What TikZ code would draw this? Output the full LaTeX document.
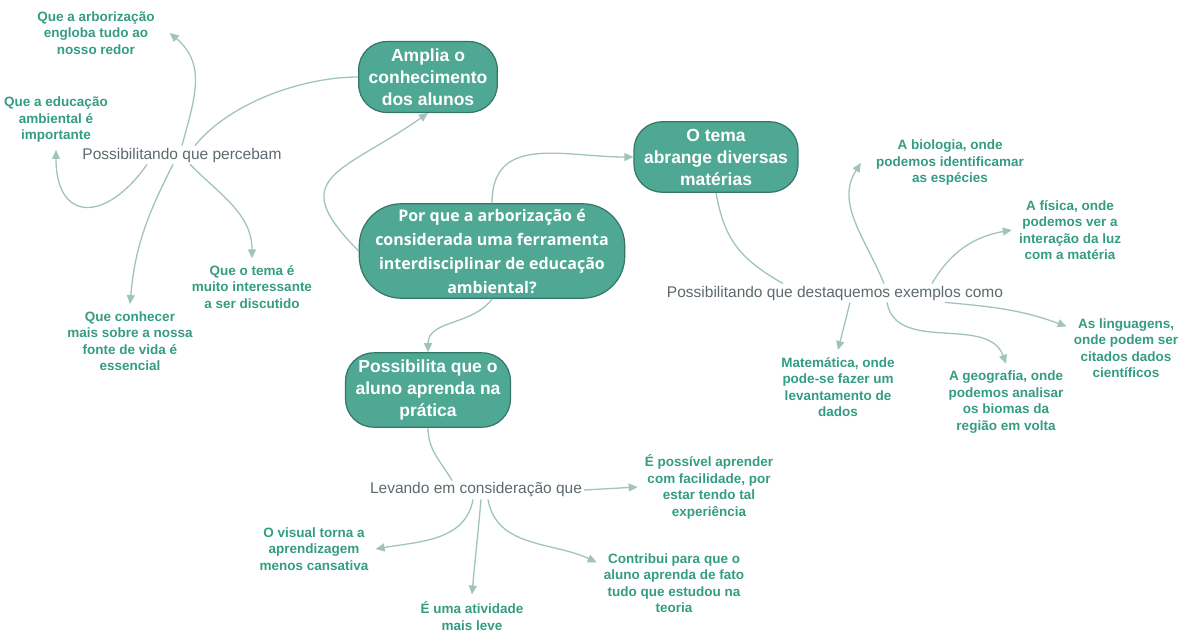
\documentclass[tikz,border=0pt]{standalone}
\usepackage{fontspec}
\setmainfont{Liberation Sans}
\newfontfamily\opensans{Open Sans}
\usetikzlibrary{arrows.meta}

\definecolor{nodeteal}{RGB}{78,168,148}
\definecolor{nodeborder}{RGB}{52,118,103}
\definecolor{leafgreen}{RGB}{52,156,130}
\definecolor{labelgray}{RGB}{92,106,110}
\definecolor{linkc}{RGB}{160,195,188}

\begin{document}
\begin{tikzpicture}[
    x=1pt, y=1pt,
    >={Triangle[length=9pt, width=8pt]},
    topic/.style={draw=nodeborder, fill=nodeteal, line width=1.2pt, rounded corners=28pt, text=white, align=center, inner xsep=10pt, inner ysep=7pt, font=\bfseries\fontsize{17.5}{22}\selectfont},
    question/.style={topic, rounded corners=42pt, inner xsep=16pt, inner ysep=5pt, font=\opensans\bfseries\fontsize{16}{24}\selectfont},
    leaf/.style={text=leafgreen, align=center, inner sep=7pt, font=\bfseries\fontsize{13.5}{16.5}\selectfont},
    linker/.style={text=labelgray, inner sep=2pt, font=\fontsize{15.5}{18}\selectfont},
    arrow/.style={->, line width=1.3pt, linkc},
    link/.style={line width=1.3pt, linkc}
]
\useasboundingbox (0,0) rectangle (1190,-634);

% TOPICS
\node[topic] (amplia) at (428,-77) {Amplia o\\conhecimento\\dos alunos};
\node[topic] (tema) at (716,-157) {O tema\\abrange diversas\\matérias};
\node[question] (pergunta) at (492,-251) {Por que a arborização é\\considerada uma ferramenta\\interdisciplinar de educação\\ambiental?};
\node[topic] (pratica) at (428,-390) {Possibilita que o\\aluno aprenda na\\prática};

% LINKING PHRASES
\node[linker] (percebam) at (182,-155) {Possibilitando que percebam};
\node[linker] (destaq) at (835,-293) {Possibilitando que destaquemos exemplos como};
\node[linker] (levando) at (476,-490) {Levando em consideração que};

% LEAVES
\node[leaf] (arborizacao) at (96,-33) {Que a arborização\\engloba tudo ao\\nosso redor};
\node[leaf] (educacao) at (56,-120) {Que a educação\\ambiental é\\importante};
\node[leaf] (interesse) at (252,-287) {Que o tema é\\muito interessante\\a ser discutido};
\node[leaf] (conhecer) at (130,-341) {Que conhecer\\mais sobre a nossa\\fonte de vida é\\essencial};
\node[leaf] (biologia) at (950,-163) {A biologia, onde\\podemos identificamar\\as espécies};
\node[leaf] (fisica) at (1070,-230) {A física, onde\\podemos ver a\\interação da luz\\com a matéria};
\node[leaf] (linguagens) at (1126,-348) {As linguagens,\\onde podem ser\\citados dados\\científicos};
\node[leaf] (matematica) at (838,-387) {Matemática, onde\\pode-se fazer um\\levantamento de\\dados};
\node[leaf] (geografia) at (1006,-402) {A geografia, onde\\podemos analisar\\os biomas da\\região em volta};
\node[leaf] (possivel) at (709,-487) {É possível aprender\\com facilidade, por\\estar tendo tal\\experiência};
\node[leaf] (visual) at (314,-549) {O visual torna a\\aprendizagem\\menos cansativa};
\node[leaf] (atividade) at (472,-616) {É uma atividade\\mais leve};
\node[leaf] (contribui) at (674,-583) {Contribui para que o\\aluno aprenda de fato\\tudo que estudou na\\teoria};

% QUESTION to TOPICS
\draw[arrow] (pergunta.west) to[out=135, in=215, looseness=1.75] (amplia.south);
\draw[arrow] (pergunta.north) to[out=90, in=180, looseness=1.2] (tema.west);
\draw[arrow] (pergunta.south) to[out=235, in=90] (pratica.north);

% TOPICS to LINKING PHRASES
\draw[link] (amplia.west) to[out=180, in=51, looseness=0.8] ([xshift=13pt]percebam.north);
\draw[link] (tema.south) to[out=-80, in=150, looseness=1.1] ([xshift=-52pt]destaq.north);
\draw[link] (pratica.south) to[out=-90, in=120] ([xshift=-24pt]levando.north);

% PERCEBAM
\draw[arrow] (percebam.north) to[out=75, in=-40, looseness=1.1] ([xshift=8pt]arborizacao.east);
\draw[arrow] ([xshift=-35pt]percebam.south) to[out=235, in=-90, looseness=2] (educacao.south);
\draw[arrow] ([xshift=-9pt]percebam.south) to[out=243, in=85] (conhecer.north);
\draw[arrow] ([xshift=8pt]percebam.south) to[out=-45, in=90] (interesse.north);

% DESTAQUEMOS
\draw[arrow] ([xshift=49pt]destaq.north) to[out=112, in=-123] ([xshift=-8pt]biologia.west);
\draw[arrow] ([xshift=97pt]destaq.north) to[out=60, in=190] (fisica.west);
\draw[arrow] ([xshift=110pt]destaq.south) to[out=-5, in=160] (linguagens.160);
\draw[arrow] ([xshift=15pt]destaq.south) -- (matematica.north);
\draw[arrow] ([xshift=52pt]destaq.south) to[out=-80, in=110] (geografia.north);

% LEVANDO
\draw[arrow] (levando.east) -- (possivel.west);
\draw[arrow] ([xshift=-3pt]levando.south) to[out=-100, in=10] (visual.east);
\draw[arrow] ([xshift=5pt]levando.south) to[out=-95, in=85] (atividade.north);
\draw[arrow] ([xshift=12pt]levando.south) to[out=-80, in=155] (contribui.165);

\end{tikzpicture}
\end{document}
